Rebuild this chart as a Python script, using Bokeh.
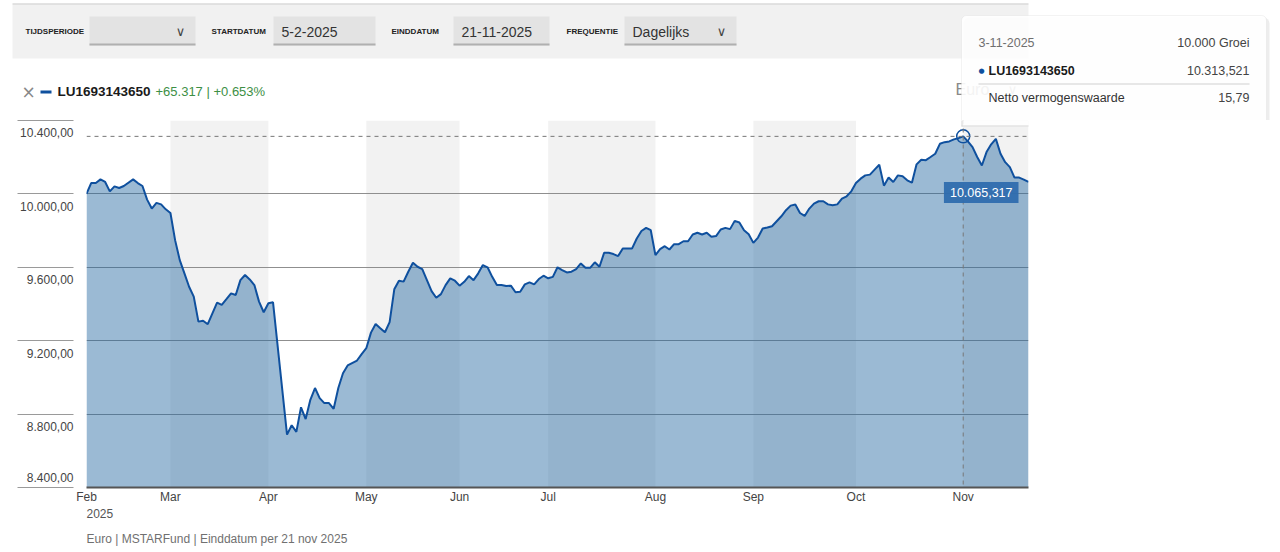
from bokeh.plotting import figure
from bokeh.layouts import column
from bokeh.models import Range1d, FixedTicker, Span, Label, BoxAnnotation, LinearAxis
from bokeh.embed import file_html
from bokeh.resources import INLINE

# ---------------- data ----------------
day_idx = [0, 1, 2, 3, 4, 5, 6, 7, 8, 10, 11, 12, 13, 14, 15, 16, 17, 18, 19, 20,
           21, 22, 23, 24, 25, 26, 28, 29, 30, 31, 32, 33, 34, 35, 36, 37, 38, 39, 40, 43,
           44, 45, 46, 47, 48, 49, 50, 51, 52, 53, 54, 55, 56, 58, 59, 60, 61, 62, 63, 64,
           65, 66, 67, 68, 69, 70, 71, 72, 73, 74, 75, 76, 77, 78, 79, 80, 81, 82, 83, 84,
           85, 86, 87, 88, 89, 90, 91, 92, 93, 94, 95, 96, 97, 98, 99, 100, 101, 102, 103, 104,
           105, 106, 107, 108, 109, 110, 111, 112, 113, 114, 115, 116, 117, 118, 119, 120, 121, 122, 123, 124,
           125, 126, 127, 128, 129, 130, 131, 132, 133, 134, 135, 136, 137, 138, 139, 140, 141, 142, 143, 144,
           145, 146, 147, 148, 149, 150, 151, 152, 153, 154, 155, 156, 157, 158, 159, 160, 161, 162, 163, 164,
           165, 166, 167, 168, 169, 170, 171, 172, 173, 174, 175, 176, 177, 178, 179, 180, 181, 182, 183, 184,
           185, 186, 187, 188, 189, 190, 191, 192, 193, 194, 195, 196, 197, 198, 199, 200, 201, 202]
growth_10000 = [10000, 10059, 10059, 10079, 10065, 10014, 10041, 10032, 10043, 10079, 10059, 10043, 9969, 9920, 9951, 9943, 9916, 9896, 9748, 9639,
                9567, 9494, 9440, 9304, 9309, 9290, 9407, 9395, 9426, 9458, 9449, 9530, 9558, 9534, 9503, 9413, 9355, 9404, 9409, 8688,
                8739, 8703, 8837, 8773, 8878, 8942, 8887, 8860, 8860, 8829, 8942, 9023, 9065, 9092, 9127, 9159, 9244, 9291, 9268, 9246,
                9301, 9480, 9527, 9522, 9576, 9625, 9603, 9590, 9530, 9470, 9434, 9454, 9503, 9540, 9527, 9500, 9521, 9552, 9530, 9567,
                9612, 9600, 9548, 9503, 9503, 9498, 9500, 9464, 9467, 9507, 9518, 9507, 9536, 9554, 9540, 9548, 9600, 9585, 9572, 9576,
                9590, 9621, 9597, 9597, 9627, 9603, 9679, 9679, 9672, 9661, 9703, 9703, 9703, 9757, 9798, 9815, 9802, 9666, 9699, 9715,
                9697, 9726, 9726, 9742, 9742, 9779, 9788, 9779, 9788, 9766, 9770, 9806, 9815, 9808, 9853, 9844, 9802, 9780, 9733, 9762,
                9811, 9817, 9824, 9851, 9878, 9911, 9936, 9942, 9896, 9880, 9920, 9947, 9960, 9960, 9943, 9938, 9943, 9974, 9987, 10014,
                10059, 10083, 10101, 10105, 10132, 10159, 10045, 10089, 10065, 10101, 10096, 10074, 10061, 10161, 10186, 10184, 10201, 10219, 10273, 10282,
                10286, 10297, 10304, 10313.521, 10286, 10255, 10201, 10155, 10228, 10270, 10300, 10219, 10173, 10146, 10089, 10089, 10078, 10065.317]

month_ticks = [0, 18, 39, 60, 80, 99, 122, 143, 165, 188]
month_labels = ["Feb", "Mar", "Apr", "May", "Jun", "Jul", "Aug", "Sep", "Oct", "Nov"]
band_start = [18, 60, 99, 143, 188]
band_end = [39, 80, 122, 165, 202]
y_ticks = [8400, 8800, 9200, 9600, 10000, 10400]
y_tick_labels = ["8.400,00", "8.800,00", "9.200,00", "9.600,00", "10.000,00", "10.400,00"]
y_min, y_max = 8400, 10400

fund_name = "LU1693143650"
start_date, end_date = "5-2-2025", "21-11-2025"
hover_idx = 188
hover_date = "3-11-2025"
hover_nav = "15,79"
year_label = "2025"
footer_text = "Euro | MSTARFund | Einddatum per 21 nov 2025"


def nl(v, d):
    s = f"{v:,.{d}f}"
    return s.replace(",", "#").replace(".", ",").replace("#", ".")


start_value = growth_10000[0]
last_value = growth_10000[-1]
hover_value = growth_10000[day_idx.index(hover_idx)]
change = last_value - start_value
pct = change / start_value * 100

FONT = "Liberation Sans"
BLUE_LINE = "#0f509e"
WIDTH = 1276
TOP_H, CHART_H, BOT_H = 120, 386, 44      # page rows: 0-120, 120-506, 506-550
FRAME_L, FRAME_R = 86, 1028               # chart frame, page x
FRAME_B = 488                             # chart frame bottom, page y
units_per_px = (y_max - y_min) / (FRAME_B - TOP_H)


# ---------------- helpers for the decoration strips (data units = page pixels) ----------------
def strip(h, y0):
    f = figure(width=WIDTH, height=h, x_range=Range1d(0, WIDTH), y_range=Range1d(y0 + h, y0),
               x_axis_type=None, y_axis_type=None, min_border=0, toolbar_location=None,
               output_backend="svg", title=None)
    f.frame_align = False
    f.outline_line_color = None
    f.background_fill_color = "white"
    f.border_fill_color = "white"
    return f


def box(f, x0, y0, x1, y1, color, alpha=1.0, line=None, radius=0):
    f.add_layout(BoxAnnotation(left=x0, right=x1, top=y0, bottom=y1,
                               fill_color=color, fill_alpha=alpha, line_color=line,
                               border_radius=radius))


def txt(f, px, py, s, size, color, bold=False, align="left", font=FONT):
    f.add_layout(Label(x=px, y=py, text=s, text_font=font, text_font_size=f"{size}px",
                       text_color=color, text_font_style="bold" if bold else "normal",
                       text_align=align, text_baseline="middle"))


# ---------------- top strip: controls, legend, tooltip ----------------
top = strip(TOP_H, 0)
box(top, 12, 4, 1028, 58, "#f1f1f1")
box(top, 12, 3, 1028, 4, "#c8c8c8")
controls = [("TIJDSPERIODE", 25, 89, 195, "", True),
            ("STARTDATUM", 211, 273, 375, start_date, False),
            ("EINDDATUM", 391, 453, 549, end_date, False),
            ("FREQUENTIE", 566, 624, 736, "Dagelijks", True)]
for lab, lx, bx0, bx1, val, dd in controls:
    txt(top, lx, 31, lab, 8, "#222222", bold=True)
    box(top, bx0, 16, bx1, 45, "#e3e3e3")
    box(top, bx0, 43, bx1, 45, "#b0b0b0")
    if val:
        txt(top, bx0 + 8, 31, val, 14, "#333333")
    if dd:
        txt(top, bx1 - 15, 31, "\u2228", 13, "#444444", align="center", font="DejaVu Sans")

txt(top, 28, 91, "\u00d7", 17, "#888888", align="center", font="DejaVu Sans")
box(top, 40, 90, 51, 93, BLUE_LINE)
txt(top, 57, 91, fund_name, 13.5, "#1a1a1a", bold=True)
txt(top, 155, 91, f"+{change:.3f} | +{pct:.3f}%", 13, "#3d8f45")
txt(top, 955, 89, "Euro", 16, "#8a8a8a")
txt(top, 1012, 89, "\u2228", 13, "#8a8a8a", align="center", font="DejaVu Sans")

# tooltip
box(top, 963, 17, 1269, 130, "#000000", alpha=0.07, radius=6)
box(top, 961, 15, 1266, 127, "#ffffff", alpha=0.9, line="#d6d6d6", radius=5)
txt(top, 978, 42, hover_date, 12.5, "#6f6f6f")
txt(top, 1249, 42, f"{nl(start_value, 0)} Groei", 12.5, "#444444", align="right")
txt(top, 981, 70, "\u25cf", 7, BLUE_LINE, align="center", font="DejaVu Sans")
txt(top, 988, 70, fund_name, 12.5, "#1a1a1a", bold=True)
txt(top, 1249, 70, nl(hover_value, 3), 12.5, "#444444", align="right")
box(top, 978, 83, 1249, 84, "#cfcfcf")
txt(top, 988, 97, "Netto vermogenswaarde", 12.5, "#333333")
txt(top, 1249, 97, hover_nav, 12.5, "#444444", align="right")

# ---------------- chart ----------------
p = figure(width=WIDTH, height=CHART_H, x_range=Range1d(0, day_idx[-1]), y_range=Range1d(y_min, y_max),
           output_backend="svg", toolbar_location=None, title=None,
           min_border_left=FRAME_L, min_border_right=WIDTH - FRAME_R, min_border_top=0,
           min_border_bottom=CHART_H - (FRAME_B - TOP_H))
p.frame_align = False
p.outline_line_color = None
p.background_fill_color = "white"
p.border_fill_color = "white"

p.quad(left=band_start, right=band_end, bottom=y_min, top=y_max,
       fill_color="#f2f2f2", line_color=None, level="image")
p.varea(x=day_idx, y1=[y_min] * len(day_idx), y2=growth_10000,
        fill_color="#21669f", fill_alpha=0.45)
p.line(day_idx, growth_10000, line_color=BLUE_LINE, line_width=2)

# inner y axis: only the short tick lines left of the frame (no label text)
ya = p.yaxis[0]
ya.ticker = FixedTicker(ticks=y_ticks)
ya.major_label_overrides = {t: "" for t in y_ticks}
ya.axis_line_color = None
ya.major_tick_in = -13
ya.major_tick_out = 69
ya.minor_tick_out = 0
ya.minor_tick_in = 0
ya.major_tick_line_color = "#9a9a9a"
ya.minor_tick_line_color = None
ya.major_label_standoff = 0

# outer y axis: the value labels, hung just below each line (the lowest one just above it)
label_pos = [int(round(t - 12.5 * units_per_px)) for t in y_ticks[1:]] + [int(round(y_min + 10 * units_per_px))]
label_txt = y_tick_labels[1:] + y_tick_labels[:1]
yb = LinearAxis(ticker=FixedTicker(ticks=label_pos),
                major_label_overrides=dict(zip(label_pos, label_txt)))
yb.axis_line_color = None
yb.major_tick_in = 0
yb.major_tick_out = 0
yb.minor_tick_line_color = None
yb.major_label_standoff = -56
yb.major_label_text_font = FONT
yb.major_label_text_font_size = "12px"
yb.major_label_text_color = "#444444"
p.add_layout(yb, "left")

xa = p.xaxis[0]
xa.ticker = FixedTicker(ticks=month_ticks)
xa.major_label_overrides = dict(zip(month_ticks, month_labels))
xa.major_label_text_align = "left"
xa.major_tick_in = 0
xa.major_tick_out = 0
xa.minor_tick_line_color = None
xa.axis_line_color = "#555555"
xa.axis_line_width = 2
xa.major_label_standoff = 2
xa.major_label_text_font = FONT
xa.major_label_text_font_size = "12px"
xa.major_label_text_color = "#444444"

p.xgrid.grid_line_color = None
p.ygrid.ticker = FixedTicker(ticks=y_ticks)
p.ygrid.grid_line_color = "#8f8f8f"

p.add_layout(Span(location=hover_idx, dimension="height", line_color="#777777", line_dash="4 4", line_width=1))
p.add_layout(Span(location=hover_value, dimension="width", line_color="#777777", line_dash="4 4", line_width=1))
p.scatter([hover_idx], [hover_value], size=13, fill_color=None, line_color=BLUE_LINE, line_width=1.5)

p.add_layout(Label(x=day_idx[-1], y=last_value, x_offset=-10, y_offset=0, text=nl(last_value, 3),
                   text_align="right", text_baseline="top", text_font=FONT, text_font_size="12.5px",
                   text_color="white", background_fill_color="#2f6dae", background_fill_alpha=0.95,
                   padding=6))


# lower edge of the tooltip that overlaps the chart frame (screen units: from frame left / bottom)
def cbox(x0, y0, x1, y1, color, alpha=1.0):
    p.add_layout(BoxAnnotation(left=x0 - FRAME_L, right=x1 - FRAME_L, top=FRAME_B - y0, bottom=FRAME_B - y1,
                               left_units="screen", right_units="screen",
                               top_units="screen", bottom_units="screen",
                               fill_color=color, fill_alpha=alpha, line_color=None, level="overlay"))


cbox(961, 120, 1266, 127, "#ffffff", 0.9)
cbox(961, 126, 1266, 127, "#d6d6d6")
cbox(961, 120, 962, 127, "#d6d6d6")

# ---------------- bottom strip ----------------
bot = strip(BOT_H, TOP_H + CHART_H)
txt(bot, FRAME_L, 513, year_label, 12, "#555555")
txt(bot, FRAME_L, 538, footer_text, 12, "#707070")

layout = column(top, p, bot, spacing=0)
open("out.html", "w").write(file_html(layout, INLINE))
